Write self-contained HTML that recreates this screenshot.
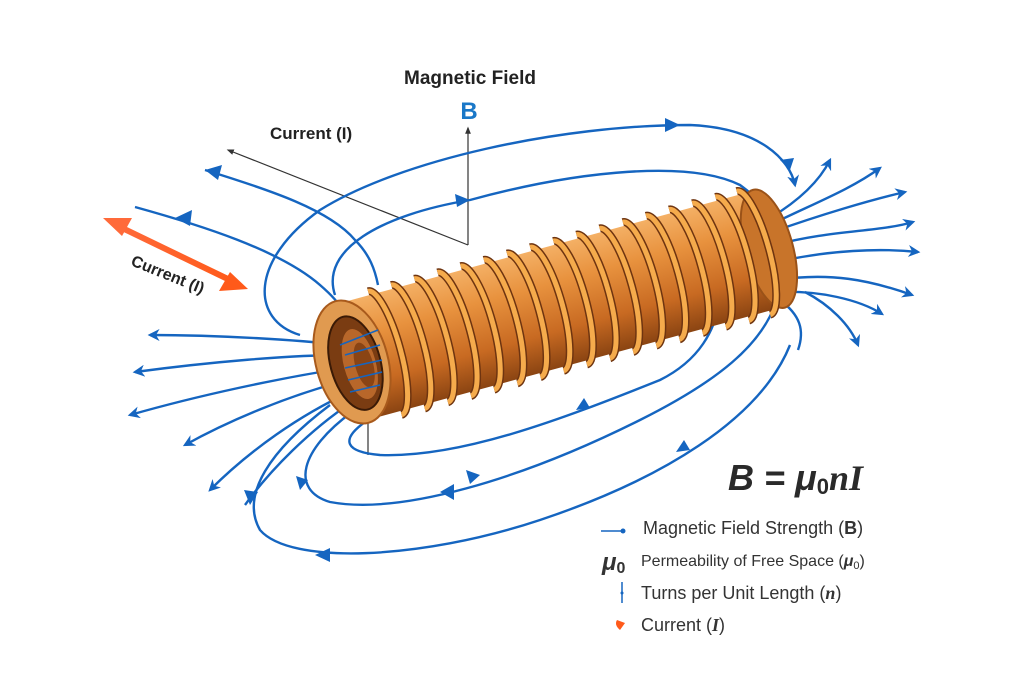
<!DOCTYPE html>
<html><head><meta charset="utf-8"><style>
html,body{margin:0;padding:0;background:#fff;}
svg{display:block;}
text{font-family:"Liberation Sans","DejaVu Sans",sans-serif;}
</style></head><body>
<svg width="1024" height="683" viewBox="0 0 1024 683" xmlns="http://www.w3.org/2000/svg">
<defs>
<marker id="a" viewBox="0 0 10 10" refX="8" refY="5" markerWidth="5" markerHeight="5" orient="auto"><path d="M0,0 L10,5 L0,10 L3,5 z" fill="#1565c0"/></marker>
<marker id="k" viewBox="0 0 10 10" refX="8" refY="5" markerWidth="6" markerHeight="6" orient="auto"><path d="M0,1 L10,5 L0,9 z" fill="#333"/></marker>
<linearGradient id="body" x1="0" y1="0" x2="0" y2="1">
<stop offset="0" stop-color="#f4b065"/><stop offset="0.3" stop-color="#e8923e"/><stop offset="0.7" stop-color="#c86a22"/><stop offset="1" stop-color="#8a4412"/></linearGradient>
<linearGradient id="or" x1="0" y1="0" x2="1" y2="0"><stop offset="0" stop-color="#ff6a3a"/><stop offset="1" stop-color="#ff5a1a"/></linearGradient>
</defs>

<g stroke="#333" stroke-width="1.2" fill="none">
<path d="M468,245 L228,150" marker-end="url(#k)"/>
<path d="M468,245 L468,128" marker-end="url(#k)"/>
<path d="M368,420 L368,455"/>
</g>

<g stroke="#1565c0" stroke-width="2.4" fill="none">
<path d="M300,335 C250,320 250,260 320,210 C400,160 560,125 690,125 C760,128 790,160 795,185" marker-end="url(#a)"/>
<path d="M335,295 C320,250 380,215 470,200 C580,170 690,160 740,185 C760,200 770,210 765,215"/>
<path d="M205,170 C270,190 330,210 355,240 C370,255 375,270 378,285"/>
<path d="M135,207 C200,225 280,250 320,285 C335,298 340,305 342,310"/>
<path d="M340,345 C300,340 220,335 150,335" marker-end="url(#a)"/>
<path d="M345,355 C290,355 210,362 135,372" marker-end="url(#a)"/>
<path d="M345,368 C280,378 200,395 130,415" marker-end="url(#a)"/>
<path d="M348,380 C290,395 230,420 185,445" marker-end="url(#a)"/>
<path d="M350,392 C300,415 250,450 210,490" marker-end="url(#a)"/>
<path d="M352,402 C310,430 270,470 245,505"/>
<path d="M330,405 C270,450 240,495 260,530 C290,565 420,560 540,520 C660,480 760,420 790,345"/>
<path d="M352,412 C300,450 290,490 330,502 C400,515 520,480 640,420 C720,380 760,345 775,305"/>
<path d="M365,422 C340,440 345,452 380,455 C460,458 560,420 660,380 C700,360 715,330 720,300"/>
<path d="M770,218 C800,200 820,180 830,160" marker-end="url(#a)"/>
<path d="M770,225 C810,205 850,190 880,168" marker-end="url(#a)"/>
<path d="M772,232 C820,215 870,200 905,192" marker-end="url(#a)"/>
<path d="M775,245 C830,230 880,232 913,222" marker-end="url(#a)"/>
<path d="M776,262 C830,250 880,248 918,252" marker-end="url(#a)"/>
<path d="M777,280 C830,272 870,280 912,295" marker-end="url(#a)"/>
<path d="M775,292 C820,290 860,300 882,314" marker-end="url(#a)"/>
<path d="M805,292 C830,305 850,325 858,345" marker-end="url(#a)"/>
<path d="M780,300 C800,315 805,330 798,350"/>
</g>
<g fill="#1565c0">
<polygon points="205,170 222,165 218,180"/>
<polygon points="175,218 192,210 190,226"/>
<polygon points="470,200 455,194 457,207"/>
<polygon points="680,125 665,118 665,132"/>
<polygon points="440,492 454,484 454,500"/>
<polygon points="315,555 330,548 330,562"/>
<polygon points="250,505 244,490 258,492"/>
<polygon points="690,450 676,452 684,440"/>
<polygon points="590,408 576,410 584,398"/>
<polygon points="480,475 466,470 470,484"/>
<polygon points="300,490 296,476 308,480"/>
<polygon points="790,170 780,160 794,158"/>
</g>

<g transform="translate(352,362) rotate(-15.2)">
<rect x="0" y="-60" width="432" height="120" fill="url(#body)"/>
<ellipse cx="432" cy="0" rx="24" ry="61" fill="#c8742a" stroke="#9a5218" stroke-width="2"/>
<g fill="none">
<path d="M34,-64 A16 64 0 0 1 34,64" stroke="#6e3410" stroke-width="8"/>
<path d="M34,-64 A16 64 0 0 1 34,64" stroke="#f5ab4c" stroke-width="5"/>
<path d="M58,-64 A16 64 0 0 1 58,64" stroke="#6e3410" stroke-width="8"/>
<path d="M58,-64 A16 64 0 0 1 58,64" stroke="#f5ab4c" stroke-width="5"/>
<path d="M82,-64 A16 64 0 0 1 82,64" stroke="#6e3410" stroke-width="8"/>
<path d="M82,-64 A16 64 0 0 1 82,64" stroke="#f5ab4c" stroke-width="5"/>
<path d="M106,-64 A16 64 0 0 1 106,64" stroke="#6e3410" stroke-width="8"/>
<path d="M106,-64 A16 64 0 0 1 106,64" stroke="#f5ab4c" stroke-width="5"/>
<path d="M130,-64 A16 64 0 0 1 130,64" stroke="#6e3410" stroke-width="8"/>
<path d="M130,-64 A16 64 0 0 1 130,64" stroke="#f5ab4c" stroke-width="5"/>
<path d="M154,-64 A16 64 0 0 1 154,64" stroke="#6e3410" stroke-width="8"/>
<path d="M154,-64 A16 64 0 0 1 154,64" stroke="#f5ab4c" stroke-width="5"/>
<path d="M178,-64 A16 64 0 0 1 178,64" stroke="#6e3410" stroke-width="8"/>
<path d="M178,-64 A16 64 0 0 1 178,64" stroke="#f5ab4c" stroke-width="5"/>
<path d="M202,-64 A16 64 0 0 1 202,64" stroke="#6e3410" stroke-width="8"/>
<path d="M202,-64 A16 64 0 0 1 202,64" stroke="#f5ab4c" stroke-width="5"/>
<path d="M226,-64 A16 64 0 0 1 226,64" stroke="#6e3410" stroke-width="8"/>
<path d="M226,-64 A16 64 0 0 1 226,64" stroke="#f5ab4c" stroke-width="5"/>
<path d="M250,-64 A16 64 0 0 1 250,64" stroke="#6e3410" stroke-width="8"/>
<path d="M250,-64 A16 64 0 0 1 250,64" stroke="#f5ab4c" stroke-width="5"/>
<path d="M274,-64 A16 64 0 0 1 274,64" stroke="#6e3410" stroke-width="8"/>
<path d="M274,-64 A16 64 0 0 1 274,64" stroke="#f5ab4c" stroke-width="5"/>
<path d="M298,-64 A16 64 0 0 1 298,64" stroke="#6e3410" stroke-width="8"/>
<path d="M298,-64 A16 64 0 0 1 298,64" stroke="#f5ab4c" stroke-width="5"/>
<path d="M322,-64 A16 64 0 0 1 322,64" stroke="#6e3410" stroke-width="8"/>
<path d="M322,-64 A16 64 0 0 1 322,64" stroke="#f5ab4c" stroke-width="5"/>
<path d="M346,-64 A16 64 0 0 1 346,64" stroke="#6e3410" stroke-width="8"/>
<path d="M346,-64 A16 64 0 0 1 346,64" stroke="#f5ab4c" stroke-width="5"/>
<path d="M370,-64 A16 64 0 0 1 370,64" stroke="#6e3410" stroke-width="8"/>
<path d="M370,-64 A16 64 0 0 1 370,64" stroke="#f5ab4c" stroke-width="5"/>
<path d="M394,-64 A16 64 0 0 1 394,64" stroke="#6e3410" stroke-width="8"/>
<path d="M394,-64 A16 64 0 0 1 394,64" stroke="#f5ab4c" stroke-width="5"/>
<path d="M416,-64 A16 64 0 0 1 416,64" stroke="#6e3410" stroke-width="8"/>
<path d="M416,-64 A16 64 0 0 1 416,64" stroke="#f5ab4c" stroke-width="5"/>
</g>
<ellipse cx="0" cy="0" rx="36" ry="63" fill="#e09a50" stroke="#a85a1c" stroke-width="2"/>
<ellipse cx="3" cy="2" rx="25" ry="48" fill="#7a3c12" stroke="#3a1a06" stroke-width="2"/>
<ellipse cx="7" cy="4" rx="16" ry="36" fill="#b8672a"/>
<ellipse cx="11" cy="6" rx="9" ry="23" fill="#8a4414"/>
</g>
<g stroke="#1565c0" stroke-width="1.6" fill="none">
<path d="M340,345 L378,330"/><path d="M345,355 L380,345"/><path d="M345,368 L382,360"/><path d="M348,380 L382,372"/><path d="M350,392 L380,385"/>
</g>

<g>
<line x1="118" y1="226" x2="232" y2="281" stroke="url(#or)" stroke-width="6"/>
<polygon points="103,218 132,218 122,236" fill="#ff6a3a"/>
<polygon points="248,289 219,291 230,272" fill="#ff5a1a"/>
</g>
<text x="0" y="0" font-size="16" font-weight="bold" fill="#222" transform="translate(130,265) rotate(22)">Current (I)</text>

<text x="470" y="84" font-size="19" font-weight="bold" fill="#222" text-anchor="middle">Magnetic Field</text>
<text x="469" y="119" font-size="24" font-weight="bold" fill="#1a78c8" text-anchor="middle">B</text>
<text x="270" y="139" font-size="17" font-weight="bold" fill="#222">Current (I)</text>

<text x="728" y="490" font-size="36" font-weight="bold" fill="#2a2a2a" font-style="italic">B = μ<tspan font-size="22" dy="4" font-style="normal">0</tspan><tspan dy="-4" font-family="Liberation Serif,serif">nI</tspan></text>

<g font-size="19" fill="#333" font-family="DejaVu Sans,sans-serif">
<line x1="601" y1="531" x2="622" y2="531" stroke="#1565c0" stroke-width="1.5"/><circle cx="623" cy="531" r="2.5" fill="#1565c0"/>
<text x="643" y="534" font-family="DejaVu Sans,sans-serif" font-size="18">Magnetic Field Strength (<tspan font-weight="bold">B</tspan>)</text>
<text x="602" y="570" font-size="24" font-weight="bold" font-style="italic">μ<tspan font-size="16" dy="3" font-style="normal">0</tspan></text>
<text x="641" y="566" font-size="16" font-family="DejaVu Sans,sans-serif">Permeability of Free Space (<tspan font-weight="bold" font-style="italic">μ</tspan><tspan font-size="11" dy="3">0</tspan><tspan dy="-3">)</tspan></text>
<line x1="622" y1="582" x2="622" y2="603" stroke="#1565c0" stroke-width="1.5"/><circle cx="622" cy="593" r="1.5" fill="#1565c0"/>
<text x="641" y="599" font-size="18" font-family="DejaVu Sans,sans-serif">Turns per Unit Length (<tspan font-weight="bold" font-style="italic" font-family="Liberation Serif,serif">n</tspan>)</text>
<path d="M617,620 L625,623 L620,630 Q614,625 617,620 z" fill="#ff5a1a"/>
<text x="641" y="631" font-size="18" font-family="DejaVu Sans,sans-serif">Current (<tspan font-weight="bold" font-style="italic" font-family="Liberation Serif,serif">I</tspan>)</text>
</g>
</svg>
</body></html>
